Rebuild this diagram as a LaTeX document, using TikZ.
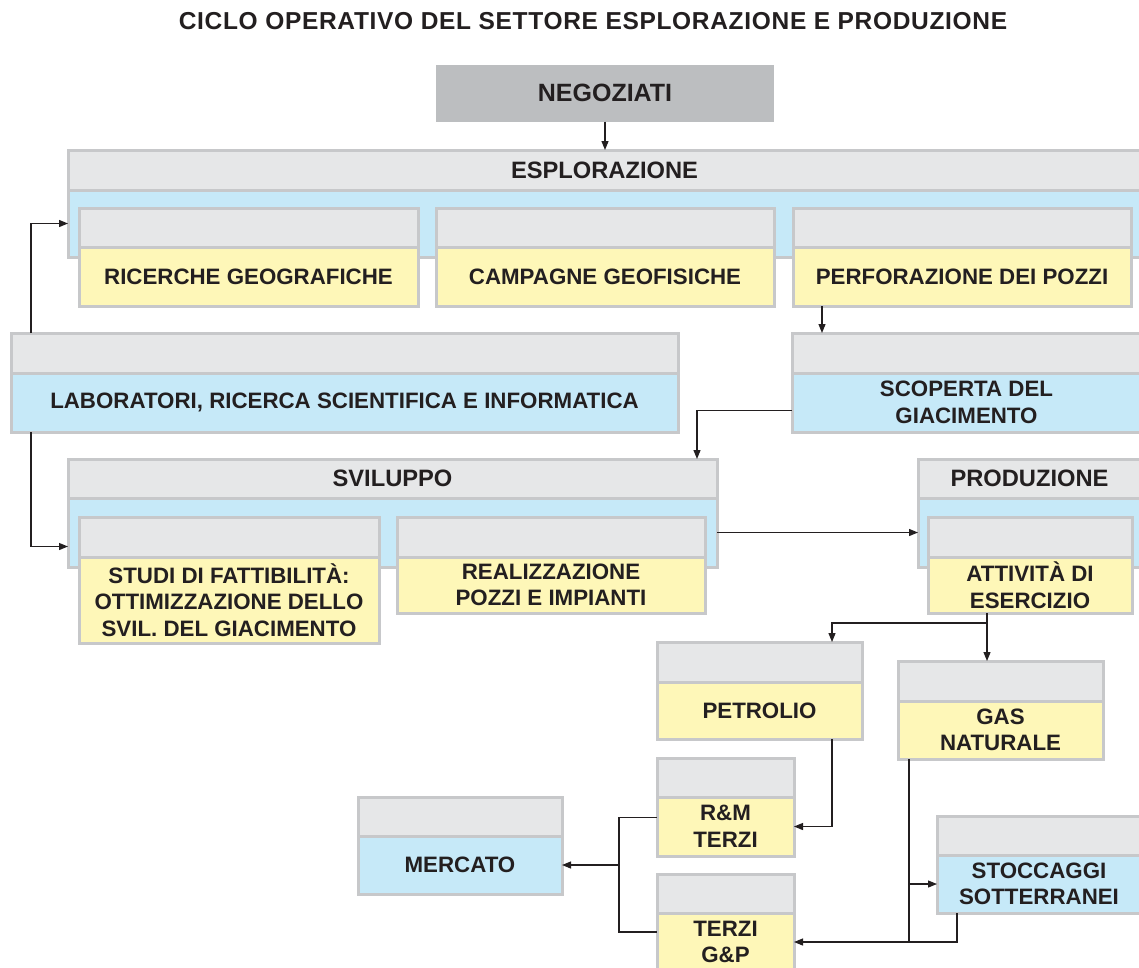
\documentclass[tikz,border=0pt]{standalone}
\usepackage{fontspec}
\setmainfont{Liberation Sans}
\usetikzlibrary{arrows.meta,calc}
\definecolor{hdrgray}{HTML}{E6E7E8}
\definecolor{bordergray}{HTML}{C7C8CA}
\definecolor{bodyblue}{HTML}{C6E9F8}
\definecolor{bodyyellow}{HTML}{FEF7B8}
\definecolor{neggray}{HTML}{BCBEC0}
\definecolor{txt}{HTML}{231F20}
\newcommand{\tbox}[9]{%
  \node[hdr, minimum width={(#4-#2)*1pt}, minimum height={(#5-#3)*1pt}] (#1-h) at ({(#2+#4)/2},{(#3+#5)/2}) {#8};
  \node[#7, minimum width={(#4-#2)*1pt}, minimum height={(#6-#5)*1pt}] (#1) at ({(#2+#4)/2},{(#5+#6)/2}) {#9};
}
\begin{document}
\begin{tikzpicture}[x=1pt,y=-1pt,
  every node/.style={inner sep=0pt, outer sep=0pt, text=txt, align=center,
     font=\fontsize{22.3}{26.5}\selectfont\bfseries},
  boxbase/.style={draw=bordergray, line width=3pt, rectangle},
  hdr/.style={boxbase, fill=hdrgray, font=\fontsize{23.7}{28}\selectfont\bfseries},
  bblue/.style={boxbase, fill=bodyblue},
  byellow/.style={boxbase, fill=bodyyellow},
  conn/.style={draw=txt, line width=1.2pt},
  arr/.style={conn, -{Triangle[length=9pt,width=7pt]}}
]
\useasboundingbox (0,0) rectangle (1139,967);
\fill[white] (0,0) rectangle (1139,967);

% title
\node[font=\fontsize{24.5}{28}\selectfont\bfseries\addfontfeatures{LetterSpace=2.8}] (title) at (593,21) {CICLO OPERATIVO DEL SETTORE ESPLORAZIONE E PRODUZIONE};

% negoziati
\node[fill=neggray, minimum width=338pt, minimum height=57pt, font=\fontsize{25}{28}\selectfont\bfseries] (neg) at (605,93) {NEGOZIATI};

% esplorazione
\tbox{esp}{68}{150}{1141}{190}{257}{bblue}{ESPLORAZIONE}{}
\tbox{ric}{79}{208}{418}{247}{306}{byellow}{}{RICERCHE GEOGRAFICHE}
\tbox{cam}{436}{208}{774}{247}{306}{byellow}{}{CAMPAGNE GEOFISICHE}
\tbox{perf}{793}{208}{1131}{247}{306}{byellow}{}{PERFORAZIONE DEI POZZI}

% laboratori
\tbox{lab}{11}{333}{678}{373}{432}{bblue}{}{LABORATORI, RICERCA SCIENTIFICA E INFORMATICA}
% scoperta
\tbox{scop}{792}{333}{1141}{373}{432}{bblue}{}{SCOPERTA DEL\\GIACIMENTO}

% sviluppo
\tbox{svi}{68}{459}{717}{498}{567}{bblue}{SVILUPPO}{}
\tbox{stud}{79}{517}{379}{557}{643}{byellow}{}{STUDI DI FATTIBILITÀ:\\OTTIMIZZAZIONE DELLO\\SVIL. DEL GIACIMENTO}
\tbox{real}{397}{517}{705}{557}{613}{byellow}{}{REALIZZAZIONE\\POZZI E IMPIANTI}

% produzione
\tbox{prod}{918}{459}{1141}{498}{567}{bblue}{PRODUZIONE}{}
\tbox{att}{928}{517}{1132}{557}{613}{byellow}{}{ATTIVITÀ DI\\ESERCIZIO}

% lower
\tbox{pet}{657}{642}{862}{682}{739}{byellow}{}{PETROLIO}
\tbox{gas}{898}{661}{1103}{701}{759}{byellow}{}{GAS\\NATURALE}
\tbox{rm}{657}{758}{794}{797}{856}{byellow}{}{R\&M\\TERZI}
\tbox{tgp}{657}{874}{794}{913}{971}{byellow}{}{TERZI\\G\&P}
\tbox{merc}{358}{797}{562}{836}{894}{bblue}{}{MERCATO}
\tbox{sto}{937}{816}{1141}{855}{913}{bblue}{}{STOCCAGGI\\SOTTERRANEI}

% connectors
\draw[arr] (neg.south) -- (neg.south |- esp-h.north);
\draw[arr] ([xshift=20pt]lab-h.north west) |- (esp.west);
\draw[arr] ([xshift=20pt]lab.south west) |- ([yshift=-14pt]svi.west);
\draw[arr] ([xshift=29pt]perf.south west) -- ([xshift=29pt]perf.south west |- scop-h.north);
\draw[arr] ([yshift=-8pt]scop.west) -| ([xshift=-20pt]svi-h.north east);
\draw[arr] (svi.east) -- (svi.east -| prod.west);

\coordinate (j1) at ([xshift=59pt,yshift=-10pt]att.south west);
\draw[conn] ([xshift=59pt]att.south west) -- (j1);
\draw[arr] (j1) -| ([xshift=-30pt]pet-h.north east);
\draw[arr] (j1) -- (j1 |- gas-h.north);

\draw[arr] ([xshift=-30pt]pet.south east) |- (rm.east);

\coordinate (j2) at ([xshift=-38pt,yshift=9pt]rm.west);
\draw[conn] ([yshift=9pt]rm.west) -- (j2) |- ([yshift=10pt]tgp.west);
\draw[arr] (j2 |- merc.east) -- (merc.east);

\coordinate (j3) at ([xshift=11pt]gas.south west);
\draw[arr] (j3) |- (tgp.east);
\draw[arr] (j3 |- sto.west) -- (sto.west);
\draw[conn] ([xshift=20pt]sto.south west) |- (j3 |- tgp.east);
\end{tikzpicture}
\end{document}
